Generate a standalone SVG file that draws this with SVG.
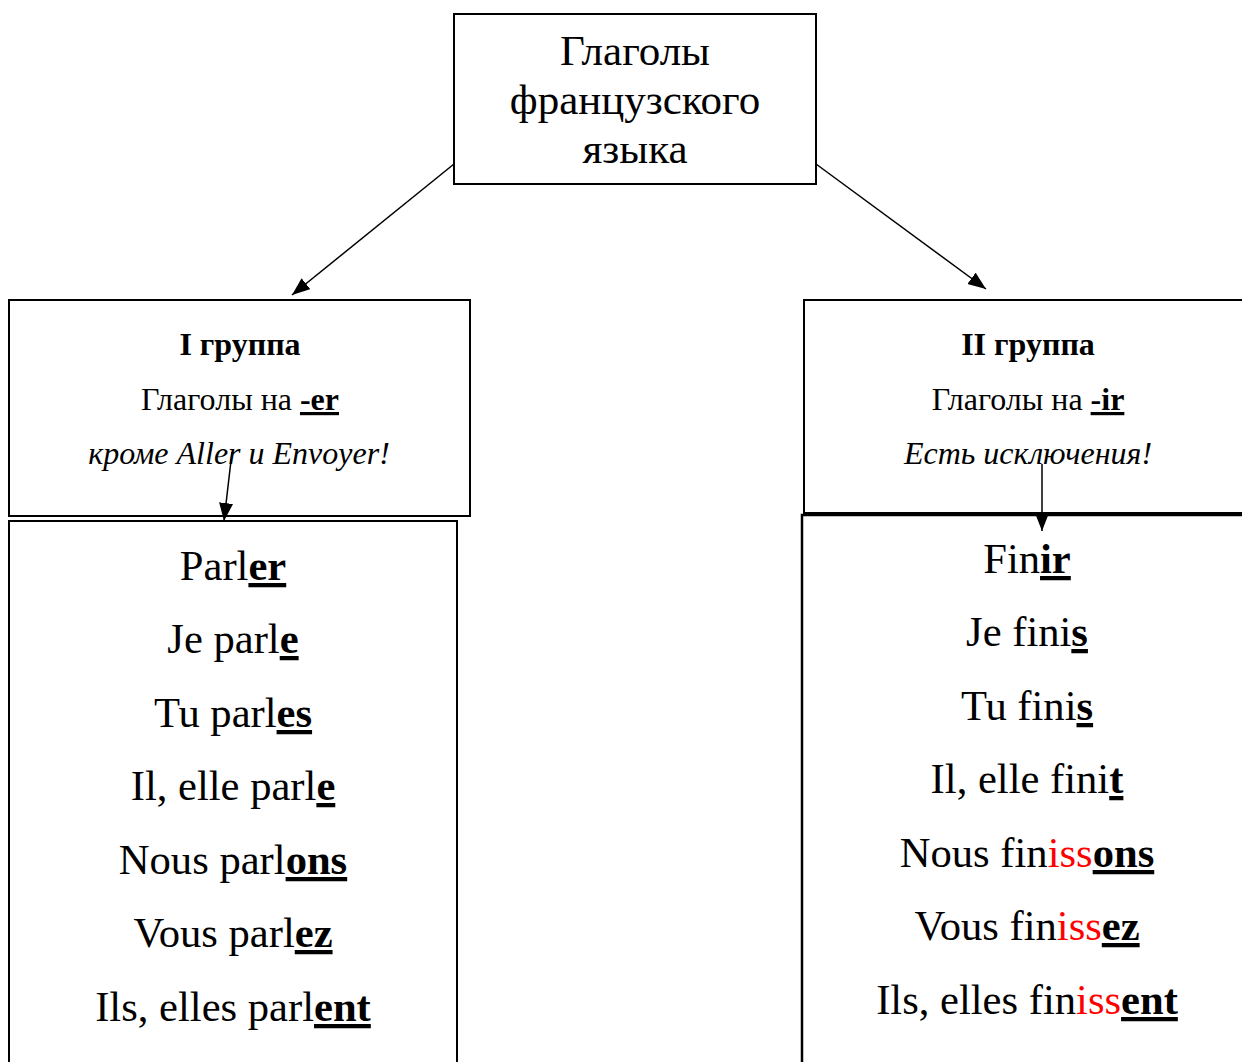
<svg xmlns="http://www.w3.org/2000/svg" width="1242" height="1062" viewBox="0 0 1242 1062">
<style>
.box{fill:#fff;stroke:#000;stroke-width:2}
.t{font-family:"Liberation Serif","Times New Roman",serif;fill:#000;text-anchor:middle}
.big{font-size:43px}
.hd{font-size:32px}
.vb{font-size:42.6px}
.b{font-weight:bold}
.u{text-decoration:underline;text-decoration-thickness:3px}
.i{font-style:italic}
.r{fill:#ff0000}
.c{stroke:#000;stroke-width:1.5;fill:none;marker-end:url(#ah)}
</style>
<defs>
<marker id="ah" markerUnits="userSpaceOnUse" markerWidth="20" markerHeight="16" refX="18" refY="7" orient="auto">
<path d="M0,0 L18,7 L0,14 Z" fill="#000"/>
</marker>
</defs>
<rect width="1242" height="1062" fill="#fff"/>
<g id="root">
<rect class="box" x="454" y="14" width="362" height="170"/>
<text class="t big" x="635" y="65">Глаголы</text>
<text class="t big" x="635" y="114">французского</text>
<text class="t big" x="635" y="163">языка</text>
</g>
<g id="group1">
<rect class="box" x="9" y="300" width="461" height="216"/>
<text class="t hd b" x="240" y="355">I группа</text>
<text class="t hd" x="240" y="410">Глаголы на <tspan class="b u">-er</tspan></text>
<text class="t hd i" x="239" y="464">кроме Aller и Envoyer!</text>
</g>
<g id="group2">
<rect class="box" x="804" y="300" width="450" height="213"/>
<text class="t hd b" x="1028" y="355">II группа</text>
<text class="t hd" x="1028" y="410">Глаголы на <tspan class="b u">-ir</tspan></text>
<text class="t hd i" x="1028" y="464">Есть исключения!</text>
</g>
<g id="conj1">
<rect class="box" x="9" y="521" width="448" height="560"/>
<text class="t vb" x="233" y="580">Parl<tspan class="b u">er</tspan></text>
<text class="t vb" x="233" y="653">Je parl<tspan class="b u">e</tspan></text>
<text class="t vb" x="233" y="727">Tu parl<tspan class="b u">es</tspan></text>
<text class="t vb" x="233" y="800">Il, elle parl<tspan class="b u">e</tspan></text>
<text class="t vb" x="233" y="874">Nous parl<tspan class="b u">ons</tspan></text>
<text class="t vb" x="233" y="947">Vous parl<tspan class="b u">ez</tspan></text>
<text class="t vb" x="233" y="1021">Ils, elles parl<tspan class="b u">ent</tspan></text>
</g>
<g id="conj2">
<rect class="box" x="802" y="515" width="460" height="560" style="stroke-width:2.5"/>
<text class="t vb" x="1027" y="573">Fin<tspan class="b u">ir</tspan></text>
<text class="t vb" x="1027" y="646">Je fini<tspan class="b u">s</tspan></text>
<text class="t vb" x="1027" y="720">Tu fini<tspan class="b u">s</tspan></text>
<text class="t vb" x="1027" y="793">Il, elle fini<tspan class="b u">t</tspan></text>
<text class="t vb" x="1027" y="867">Nous fin<tspan class="r">iss</tspan><tspan class="b u">ons</tspan></text>
<text class="t vb" x="1027" y="940">Vous fin<tspan class="r">iss</tspan><tspan class="b u">ez</tspan></text>
<text class="t vb" x="1027" y="1014">Ils, elles fin<tspan class="r">iss</tspan><tspan class="b u">ent</tspan></text>
</g>
<g id="connectors">
<line class="c" x1="454" y1="164" x2="292" y2="295"/>
<line class="c" x1="816" y1="164" x2="986" y2="289"/>
<line class="c" x1="232" y1="452" x2="224" y2="521"/>
<line class="c" x1="1042" y1="464" x2="1042" y2="531"/>
</g>
</svg>
